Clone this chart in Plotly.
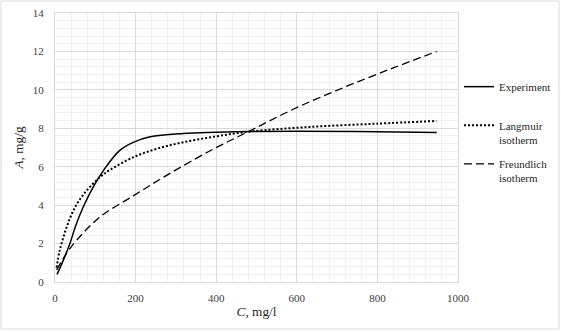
import plotly.graph_objects as go

# Experimental isotherm
exp_c = [5, 20, 37, 50, 70, 95, 120, 160, 194, 236, 318, 400, 483, 600, 750, 947]
exp_a = [0.4, 1.1, 2.0, 2.85, 3.9, 4.95, 5.8, 6.84, 7.27, 7.56, 7.73, 7.79, 7.83, 7.84, 7.83, 7.78]

# Langmuir isotherm
lang_c = [4, 12, 29, 50, 79, 112, 136, 194, 252, 318, 400, 484, 633, 798, 947]
lang_a = [0.75, 1.66, 2.86, 3.9, 4.77, 5.46, 5.83, 6.49, 6.93, 7.27, 7.58, 7.83, 8.07, 8.24, 8.38]

# Freundlich isotherm
freu_c = [4, 29, 54, 112, 194, 277, 385, 484, 591, 715, 839, 947]
freu_a = [0.63, 1.5, 2.18, 3.39, 4.48, 5.55, 6.83, 7.87, 8.99, 10.11, 11.14, 12.0]

x_ticks = [0, 200, 400, 600, 800, 1000]
y_ticks = [0, 2, 4, 6, 8, 10, 12, 14]

FONT = "'Liberation Serif', 'Times New Roman', serif"
TXT = "#404040"
W, H = 561, 332

fig = go.Figure()
fig.add_trace(go.Scatter(x=exp_c, y=exp_a, mode="lines", name="Experiment<br>\u00a0",
                         line=dict(color="black", width=1.5, shape="spline"), legendgroup="a"))
fig.add_trace(go.Scatter(x=lang_c, y=lang_a, mode="lines", name="Langmuir<br>isotherm",
                         line=dict(color="black", width=2, dash="2px,2px", shape="spline"), legendgroup="b"))
fig.add_trace(go.Scatter(x=freu_c, y=freu_a, mode="lines", name="Freundlich<br>isotherm",
                         line=dict(color="black", width=1.3, dash="8px,4px", shape="spline"), legendgroup="c"))

# plot area: x 55..458 px, y 13..282 px
def px_x(p):
    return (p - 55) / 403.0

def px_y(p):
    return (282 - p) / 269.0

fig.update_layout(
    width=W, height=H,
    margin=dict(l=55, r=103, t=13, b=50),
    paper_bgcolor="white", plot_bgcolor="white",
    font=dict(family=FONT, size=11, color=TXT),
    showlegend=True,
    legend=dict(xref="container", yref="container",
                x=459 / W, xanchor="left", y=1 - 73 / H, yanchor="top",
                valign="top", itemwidth=30, tracegroupgap=7,
                font=dict(family=FONT, size=11, color="#262626"),
                bgcolor="rgba(0,0,0,0)"),
    shapes=[dict(type="rect", xref="paper", yref="paper",
                 x0=px_x(1), x1=px_x(559), y0=px_y(329), y1=px_y(1),
                 line=dict(color="#d9d9d9", width=1), layer="below")],
)

fig.update_xaxes(range=[0, 1000], tickvals=x_ticks, ticktext=[str(v) for v in x_ticks],
                 showgrid=True, gridcolor="#d9d9d9", gridwidth=1,
                 minor=dict(dtick=40, showgrid=True, gridcolor="#f0f0f0", gridwidth=1, ticks=""),
                 zeroline=False, showline=True, linecolor="#d9d9d9", mirror=True,
                 ticks="outside", ticklen=6, tickcolor="rgba(0,0,0,0)",
                 tickfont=dict(family=FONT, size=11, color=TXT), automargin=False,
                 title=dict(text="<i>C</i>, mg/l", font=dict(family=FONT, size=13.3, color="#262626"), standoff=3))
fig.update_yaxes(range=[0, 14], tickvals=y_ticks, ticktext=[str(v) for v in y_ticks],
                 showgrid=True, gridcolor="#d9d9d9", gridwidth=1,
                 minor=dict(dtick=0.4, showgrid=True, gridcolor="#f0f0f0", gridwidth=1, ticks=""),
                 zeroline=False, showline=True, linecolor="#d9d9d9", mirror=True,
                 ticks="outside", ticklen=8, tickcolor="rgba(0,0,0,0)",
                 tickfont=dict(family=FONT, size=11, color=TXT), automargin=False,
                 title=dict(text="<i>A</i>, mg/g", font=dict(family=FONT, size=13.3, color="#262626"), standoff=6))

fig.write_html("out.html", config={"displayModeBar": False},
               post_script="document.body.style.margin='0';")
